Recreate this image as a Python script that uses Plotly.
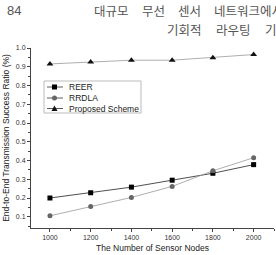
import plotly.graph_objects as go

nodes = [1000, 1200, 1400, 1600, 1800, 2000]
reer = [0.200, 0.228, 0.258, 0.295, 0.332, 0.378]
rrdla = [0.105, 0.155, 0.203, 0.262, 0.345, 0.415]
proposed = [0.915, 0.925, 0.935, 0.935, 0.948, 0.965]

series_names = ["REER", "RRDLA", "Proposed Scheme"]
x_ticks = [1000, 1200, 1400, 1600, 1800, 2000]
y_ticks = [0.1, 0.2, 0.3, 0.4, 0.5, 0.6, 0.7, 0.8, 0.9, 1.0]

header_page = "84"
header_line1 = ["대규모", "무선", "센서", "네트워크에서"]
header_line2 = ["기회적", "라우팅", "기법"]

W, H = 276, 255
ML, MR, MT, MB = 31, 2, 48, 27
PW, PH = W - ML - MR, H - MT - MB

def px(x):
    return (x - ML) / PW

def py(y):
    return 1 - (y - MT) / PH

styles = [
    dict(line="#222222", marker="#000000", symbol="square", size=5),
    dict(line="#999999", marker="#666666", symbol="circle", size=5),
    dict(line="#999999", marker="#111111", symbol="triangle-up", size=6),
]

fig = go.Figure()
for name, vals, st in zip(series_names, [reer, rrdla, proposed], styles):
    fig.add_trace(go.Scatter(x=nodes, y=vals, name=name, mode="lines+markers",
                             showlegend=False,
                             line=dict(color=st["line"], width=0.8),
                             marker=dict(symbol=st["symbol"], size=st["size"], color=st["marker"])))

fig.update_layout(
    width=W, height=H,
    margin=dict(l=ML, r=MR, t=MT, b=MB),
    paper_bgcolor="white", plot_bgcolor="white",
    font=dict(family="Liberation Sans, Arial, sans-serif", color="#333333", size=7),
    xaxis=dict(range=[907, 2100], tickvals=x_ticks, ticks="outside", ticklen=3,
               tickcolor="#444444", showline=True, linecolor="#444444", linewidth=1,
               showgrid=False, zeroline=False, tickfont=dict(size=7),
               minor=dict(dtick=100, ticks="outside", ticklen=2, tickcolor="#444444"),
               title=dict(text="The Number of Sensor Nodes", font=dict(size=8.5, color="#222222"),
                          standoff=4)),
    yaxis=dict(range=[0.04, 1.0], tickvals=y_ticks, tickformat=".1f", ticks="outside",
               ticklen=3, tickcolor="#444444", showline=True, linecolor="#444444", linewidth=1,
               showgrid=False, zeroline=False, tickfont=dict(size=7),
               minor=dict(dtick=0.05, ticks="outside", ticklen=2, tickcolor="#444444"),
               title=dict(text="End-to-End Transmission Success Ratio (%)",
                          font=dict(size=8.5, color="#222222"), standoff=4)),
)

# manual compact legend
shapes = [dict(type="rect", xref="paper", yref="paper", x0=px(44), x1=px(141), y0=py(81), y1=py(113),
               line=dict(color="#bbbbbb", width=1), fillcolor="white", layer="above")]
annotations = []
rows = [87, 98, 108.5]
for name, st, ry in zip(series_names, styles, rows):
    shapes.append(dict(type="line", xref="paper", yref="paper", x0=px(47), x1=px(63),
                       y0=py(ry), y1=py(ry), line=dict(color="#333333", width=0.8), layer="above"))
    cx = 54.5
    if st["symbol"] == "square":
        shapes.append(dict(type="rect", xref="paper", yref="paper", x0=px(cx - 2.5), x1=px(cx + 2.5),
                           y0=py(ry + 2.5), y1=py(ry - 2.5), fillcolor=st["marker"],
                           line=dict(width=0), layer="above"))
    elif st["symbol"] == "circle":
        shapes.append(dict(type="circle", xref="paper", yref="paper", x0=px(cx - 2.5), x1=px(cx + 2.5),
                           y0=py(ry + 2.5), y1=py(ry - 2.5), fillcolor=st["marker"],
                           line=dict(width=0), layer="above"))
    else:
        path = "M {} {} L {} {} L {} {} Z".format(px(cx - 3), py(ry + 2.5), px(cx + 3), py(ry + 2.5),
                                                 px(cx), py(ry - 3))
        shapes.append(dict(type="path", xref="paper", yref="paper", path=path, fillcolor=st["marker"],
                           line=dict(width=0), layer="above"))
    annotations.append(dict(text=name, xref="paper", yref="paper", x=px(67), y=py(ry),
                            xanchor="left", yanchor="middle", showarrow=False,
                            font=dict(size=8.5, color="#222222")))

annotations.append(dict(text=header_page, xref="paper", yref="paper", x=px(5), y=py(10),
                        xanchor="left", yanchor="middle", showarrow=False,
                        font=dict(size=13, color="#555555", family="Liberation Sans")))
hdr_font = dict(size=12.5, color="#555555", family="Noto Sans CJK KR")
for word, wx in zip(header_line1, [92, 140, 176, 212]):
    annotations.append(dict(text=word, xref="paper", yref="paper", x=px(wx), y=py(10),
                            xanchor="left", yanchor="middle", showarrow=False, font=hdr_font))
for word, wx in zip(header_line2, [165, 214, 263]):
    annotations.append(dict(text=word, xref="paper", yref="paper", x=px(wx), y=py(30),
                            xanchor="left", yanchor="middle", showarrow=False, font=hdr_font))

fig.update_layout(shapes=shapes, annotations=annotations)
fig.write_html("out.html")
